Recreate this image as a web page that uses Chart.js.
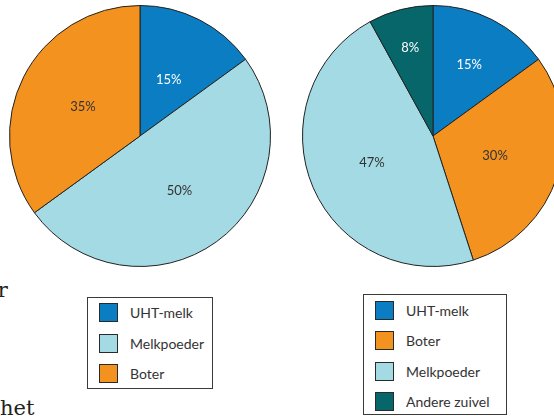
<!DOCTYPE html>
<html lang="nl">
<head>
<meta charset="utf-8">
<script src="https://cdn.jsdelivr.net/npm/chart.js@4/dist/chart.umd.min.js"></script>
<style>
  html, body { margin: 0; padding: 0; background: #fff; }
  body { width: 554px; height: 416px; position: relative; overflow: hidden; font-family: Lato, sans-serif; }
  .pie { position: absolute; top: 5px; width: 262px; height: 262px; }
  #leftWrap { left: 9px; }
  #rightWrap { left: 302px; }
  .legend { position: absolute; border: 1px solid #3a3a3a; background: #fff; box-sizing: border-box; }
  .legend .item { position: absolute; left: 11px; height: 19px; display: flex; align-items: center; }
  .legend .swatch { width: 17px; height: 17px; border: 1px solid #2a2a2a; margin-right: 12px; }
  .legend span { font-size: 14px; color: #333; white-space: nowrap; }
  #leftLegend { left: 87px; top: 297px; width: 126px; height: 92px; }
  #rightLegend { left: 363px; top: 294px; width: 144px; height: 121px; }
  .stray { position: absolute; font-family: "DejaVu Serif", serif; font-size: 21px; color: #222; line-height: 1; }
</style>
</head>
<body>
<div class="stray" style="left:-15px; top:280px;">or</div>
<div class="stray" style="left:0px; top:398px;">het</div>
<div class="pie" id="leftWrap"><canvas id="leftChart"></canvas></div>
<div class="pie" id="rightWrap"><canvas id="rightChart"></canvas></div>
<div class="legend" id="leftLegend"></div>
<div class="legend" id="rightLegend"></div>
<script>
const leftLabels = ['UHT-melk', 'Melkpoeder', 'Boter'];
const leftValues = [15, 50, 35];
const rightLabels = ['UHT-melk', 'Boter', 'Melkpoeder', 'Andere zuivel'];
const rightValues = [15, 30, 47, 8];

const colours = {
  'UHT-melk': '#0b7ec3',
  'Melkpoeder': '#a4dae4',
  'Boter': '#f3921f',
  'Andere zuivel': '#06666a'
};
const textColours = {
  'UHT-melk': '#ffffff',
  'Melkpoeder': '#333333',
  'Boter': '#333333',
  'Andere zuivel': '#ffffff'
};

// how far out (fraction of radius) each percentage label sits
const leftLabelRadius = [0.485, 0.515, 0.49];
const rightLabelRadius = [0.61, 0.5, 0.51, 0.7];

const sliceLabels = {
  id: 'sliceLabels',
  afterDatasetsDraw(chart, args, opts) {
    const ctx = chart.ctx;
    const meta = chart.getDatasetMeta(0);
    const labels = chart.data.labels;
    const values = chart.data.datasets[0].data;
    ctx.save();
    ctx.font = '13px Lato, sans-serif';
    ctx.textAlign = 'center';
    ctx.textBaseline = 'middle';
    meta.data.forEach((arc, i) => {
      const p = arc.getProps(['x', 'y', 'startAngle', 'endAngle', 'outerRadius'], true);
      const mid = (p.startAngle + p.endAngle) / 2;
      const r = p.outerRadius * opts.radius[i];
      ctx.fillStyle = textColours[labels[i]];
      ctx.fillText(values[i] + '%', p.x + Math.cos(mid) * r, p.y + Math.sin(mid) * r);
    });
    ctx.restore();
  }
};

function drawPie(id, labels, values, radius) {
  return new Chart(document.getElementById(id), {
    type: 'pie',
    data: {
      labels,
      datasets: [{
        data: values,
        backgroundColor: labels.map((l) => colours[l]),
        borderColor: '#222222',
        borderWidth: 1
      }]
    },
    options: {
      responsive: true,
      maintainAspectRatio: false,
      animation: false,
      layout: { padding: 0 },
      plugins: {
        legend: { display: false },
        tooltip: { enabled: false },
        sliceLabels: { radius }
      }
    },
    plugins: [sliceLabels]
  });
}

function buildLegend(id, labels, top, step) {
  const box = document.getElementById(id);
  labels.forEach((label, i) => {
    const item = document.createElement('div');
    item.className = 'item';
    item.style.top = (top + i * step) + 'px';
    const sw = document.createElement('div');
    sw.className = 'swatch';
    sw.style.background = colours[label];
    const text = document.createElement('span');
    text.textContent = label;
    item.append(sw, text);
    box.appendChild(item);
  });
}

drawPie('leftChart', leftLabels, leftValues, leftLabelRadius);
drawPie('rightChart', rightLabels, rightValues, rightLabelRadius);
buildLegend('leftLegend', leftLabels, 5, 30.5);
buildLegend('rightLegend', rightLabels, 6, 30.3);
</script>
</body>
</html>
